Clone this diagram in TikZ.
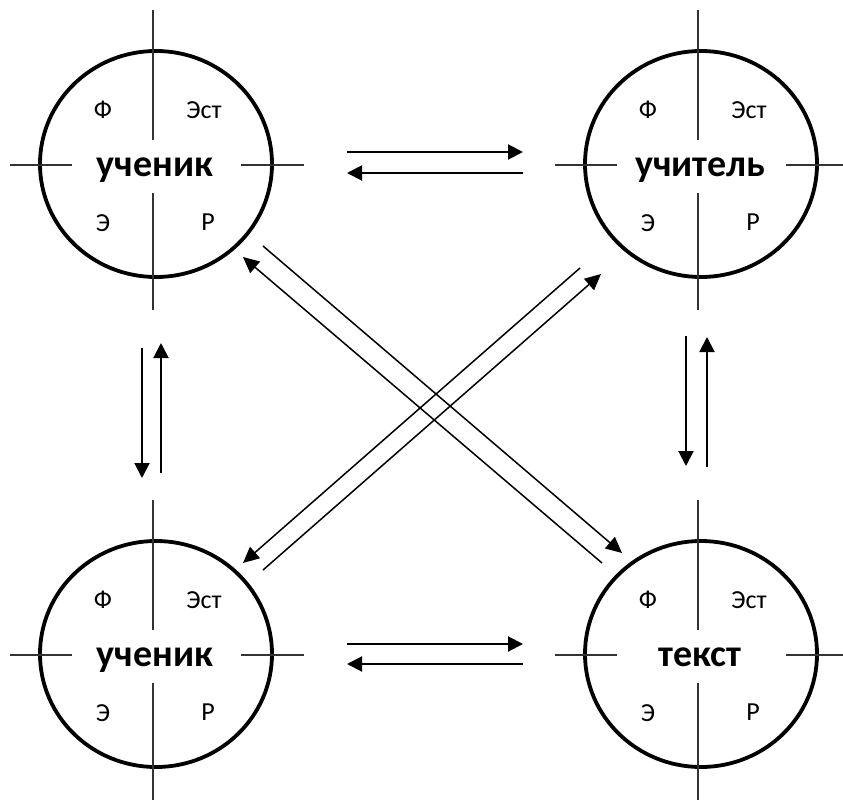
\documentclass[tikz,border=0pt]{standalone}
\usepackage{fontspec}
\setmainfont{Carlito}
\usetikzlibrary{shapes.geometric,arrows.meta}
\tikzset{
  circ/.style={draw, ellipse, line width=3.8pt, minimum width=232pt, minimum height=226pt, inner sep=0pt},
  crossline/.style={line width=1.3pt, draw=black!80},
  small/.style={anchor=base, inner sep=0pt, font=\fontsize{26}{28}\selectfont},
  big/.style={anchor=base, inner sep=0pt, font=\fontsize{38}{40}\selectfont\bfseries},
  harrow/.style={line width=2pt, -{Triangle[length=15pt,width=15pt]}},
  darrow/.style={line width=1.5pt, -{Triangle[length=16pt,width=15pt]}},
}
\newcommand\unitnode[5]{%
  % #1 name, #2 cx, #3 cy, #4 label, #5 right extension
  \node[circ] (#1) at (#2,#3) {};
  \draw[crossline] (#2-3,#3-154) -- (#2-3,#3-24);
  \draw[crossline] (#2-3,#3+29) -- (#2-3,#3+146);
  \draw[crossline] (#2-146,#3+1) -- (#2-84,#3+1);
  \draw[crossline] (#2+85,#3+1) -- (#2+#5,#3+1);
  \node[small] (#1-f) at (#2-53,#3-46) {Ф};
  \node[small] (#1-est) at (#2+48,#3-46) {Эст};
  \node[small] (#1-e) at (#2-53,#3+67) {Э};
  \node[small] (#1-r) at (#2+52,#3+66) {Р};
  \node[big] (#1-l) at (#2-1,#3+12) {#4};
}
\begin{document}
\begin{tikzpicture}[x=1pt,y=-1pt]
\useasboundingbox (0,0) rectangle (843,800);
\unitnode{s1}{156}{164}{ученик}{148}
\unitnode{t}{701}{164}{учитель}{145}
\unitnode{s2}{156}{654}{ученик}{148}
\unitnode{x}{701}{654}{текст}{145}
% horizontal pairs
\coordinate (a1) at (347,152); \coordinate (a2) at (523,152);
\coordinate (b1) at (523,173); \coordinate (b2) at (347,173);
\coordinate (c1) at (347,644); \coordinate (c2) at (523,644);
\coordinate (d1) at (523,664); \coordinate (d2) at (347,664);
\draw[harrow] (a1) -- (a2);
\draw[harrow] (b1) -- (b2);
\draw[harrow] (c1) -- (c2);
\draw[harrow] (d1) -- (d2);
% vertical pairs
\coordinate (e1) at (142,348); \coordinate (e2) at (142,478);
\coordinate (f1) at (161,473); \coordinate (f2) at (161,343);
\coordinate (g1) at (686,336); \coordinate (g2) at (686,466);
\coordinate (h1) at (707,467); \coordinate (h2) at (707,337);
\draw[harrow] (e1) -- (e2);
\draw[harrow] (f1) -- (f2);
\draw[harrow] (g1) -- (g2);
\draw[harrow] (h1) -- (h2);
% diagonals
\coordinate (p1) at (263,246); \coordinate (p2) at (622,553);
\coordinate (q1) at (602,563); \coordinate (q2) at (243,257);
\coordinate (r1) at (580,268); \coordinate (r2) at (243,563);
\coordinate (u1) at (263,570); \coordinate (u2) at (601,274);
\draw[darrow] (p1) -- (p2);
\draw[darrow] (q1) -- (q2);
\draw[darrow] (r1) -- (r2);
\draw[darrow] (u1) -- (u2);
\end{tikzpicture}
\end{document}
